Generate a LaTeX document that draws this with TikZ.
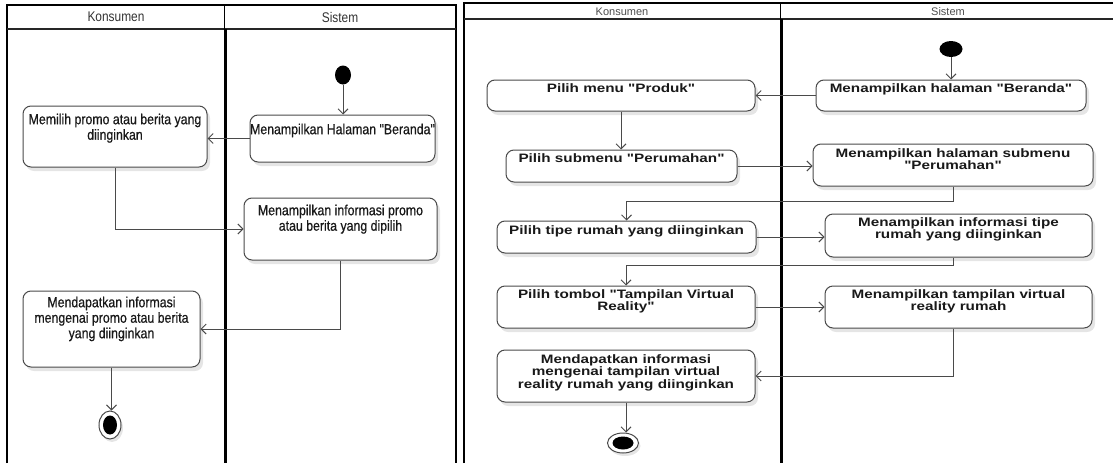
\documentclass[tikz,border=0pt]{standalone}
\usepackage{fontspec}
\setmainfont{Liberation Sans}
\newfontfamily\narrowfont[FakeStretch=0.85]{Liberation Sans}
\newfontfamily\narrowmed[FakeStretch=0.85,FakeBold=0.6]{Liberation Sans}
\newfontfamily\widefont[FakeStretch=1.25]{Liberation Sans}
\usetikzlibrary{arrows.meta,shadows,shapes.geometric}
\definecolor{edge}{HTML}{4A4A4A}
\tikzset{
  lane/.style={black, line width=2pt},
  thinlane/.style={black!85, line width=1.3pt},
  divider/.style={black, line width=3pt},
  act/.style={draw=edge, line width=1pt, rounded corners=8pt, fill=white, inner sep=0pt,
    drop shadow={shadow xshift=3pt, shadow yshift=-4pt, fill=black, opacity=0.10}},
  txtL/.style={anchor=north, inner sep=0pt, align=center, text=black!90,
    font=\narrowmed\fontsize{14.5}{15.5}\selectfont},
  txtR/.style={anchor=north, inner sep=0pt, align=center, text=black!90,
    font=\widefont\bfseries\fontsize{12.2}{10.8}\selectfont},
  headL/.style={inner sep=0pt, text=black!80, font=\narrowfont\fontsize{14}{15}\selectfont},
  headR/.style={inner sep=0pt, text=black!70, font=\fontsize{11}{13}\selectfont},
  flow/.style={draw=edge, line width=1pt, -{Straight Barb[length=5pt,width=10pt,line width=1pt]}},
  startnode/.style={ellipse, fill=black, inner sep=0pt},
  endouter/.style={ellipse, draw=edge, line width=1pt, fill=white, inner sep=0pt,
    drop shadow={shadow xshift=2pt, shadow yshift=-3pt, fill=black, opacity=0.10}},
  endinner/.style={ellipse, fill=black, inner sep=0pt},
}
\begin{document}
\begin{tikzpicture}[x=1pt,y=-1pt]
\useasboundingbox (0,0) rectangle (1113,463);

% ---------------- left diagram: swimlanes ----------------
\draw[lane] (7,463) -- (7,5) -- (456,5) -- (456,463);
\draw[thinlane] (7,29) -- (456,29);
\draw[black, line width=1pt] (224,5) -- (224,29);
\draw[divider] (225.5,29) -- (225.5,463);
\node[headL] (hk1) at (116,17) {Konsumen};
\node[headL] (hs1) at (340,17) {Sistem};

% nodes
\node[startnode, minimum width=16pt, minimum height=19pt] (s1) at (343,75) {};
\node[act, minimum width=185pt, minimum height=47pt] (beranda) at (342.5,138.5) {};
\node[txtL] at ([yshift=-9pt]beranda.north) {Menampilkan Halaman "Beranda"};
\node[act, minimum width=184pt, minimum height=61pt] (memilih) at (115,136.5) {};
\node[txtL] at ([yshift=-8pt]memilih.north) {Memilih promo atau berita yang\\diinginkan};
\node[act, minimum width=193pt, minimum height=62pt] (info) at (340.5,229) {};
\node[txtL] at ([yshift=-7pt]info.north) {Menampilkan informasi promo\\atau berita yang dipilih};
\node[act, minimum width=177pt, minimum height=76pt] (dapat) at (111.5,329) {};
\node[txtL] at ([yshift=-6pt]dapat.north) {Mendapatkan informasi\\mengenai promo atau berita\\yang diinginkan};
\node[endouter, minimum width=22pt, minimum height=28pt] (e1) at (110,425) {};
\node[endinner, minimum width=14pt, minimum height=19pt] (e1i) at (e1.center) {};

% connectors
\draw[flow] (s1) -- (s1 |- beranda.north);
\draw[flow] (beranda.west) -- (beranda.west -| memilih.east);
\draw[flow] (memilih.south) |- (info.west);
\draw[flow] (info.south) |- (dapat.east);
\draw[flow] (dapat.south) -- (dapat.south |- e1.north);

% ---------------- right diagram: swimlanes ----------------
\draw[lane] (464,463) -- (464,3) -- (1113,3);
\draw[thinlane] (464,19) -- (1113,19);
\draw[black, line width=1pt] (780,3) -- (780,19);
\draw[divider] (781,19) -- (781,463);
\node[headR] (hk2) at (622,12) {Konsumen};
\node[headR] (hs2) at (948,12) {Sistem};

% nodes
\node[startnode, minimum width=23pt, minimum height=16pt] (s2) at (951,49) {};
\node[act, minimum width=270pt, minimum height=31pt] (beranda2) at (951,95.5) {};
\node[txtR] at ([yshift=-4pt]beranda2.north) {Menampilkan halaman "Beranda"};
\node[act, minimum width=268pt, minimum height=31pt] (produk) at (621,95.5) {};
\node[txtR] at ([yshift=-4pt]produk.north) {Pilih menu "Produk"};
\node[act, minimum width=231pt, minimum height=32pt] (submenu) at (621.5,166) {};
\node[txtR] at ([yshift=-4pt]submenu.north) {Pilih submenu "Perumahan"};
\node[act, minimum width=280pt, minimum height=42pt] (halsub) at (953,165) {};
\node[txtR] at ([yshift=-5pt]halsub.north) {Menampilkan halaman submenu\\"Perumahan"};
\node[act, minimum width=259pt, minimum height=32pt] (tipe) at (626.5,237) {};
\node[txtR] at ([yshift=-5pt]tipe.north) {Pilih tipe rumah yang diinginkan};
\node[act, minimum width=267pt, minimum height=43pt] (infotipe) at (958.5,235.5) {};
\node[txtR] at ([yshift=-4pt]infotipe.north) {Menampilkan informasi tipe\\rumah yang diinginkan};
\node[act, minimum width=258pt, minimum height=42pt] (tombol) at (626,307) {};
\node[txtR] at ([yshift=-4pt]tombol.north) {Pilih tombol "Tampilan Virtual\\Reality"};
\node[act, minimum width=267pt, minimum height=42pt] (tampil) at (958.5,307) {};
\node[txtR] at ([yshift=-4pt]tampil.north) {Menampilkan tampilan virtual\\reality rumah};
\node[act, minimum width=258pt, minimum height=52pt] (dapat2) at (626,376) {};
\node[txtR] at ([yshift=-5pt]dapat2.north) {Mendapatkan informasi\\mengenai tampilan virtual\\reality rumah yang diinginkan};
\node[endouter, minimum width=31pt, minimum height=20pt] (e2) at (623,443) {};
\node[endinner, minimum width=21pt, minimum height=13pt] (e2i) at (e2.center) {};

% connectors
\draw[flow] (s2) -- (s2 |- beranda2.north);
\draw[flow] (beranda2.west) -- (beranda2.west -| produk.east);
\draw[flow] (produk.south) -- (produk.south |- submenu.north);
\draw[flow] (submenu.east) -- (submenu.east -| halsub.west);
\draw[flow] (halsub.south) -- ++(0,15) -| (tipe.north);
\draw[flow] (tipe.east) -- (tipe.east -| infotipe.west);
\draw[flow] ([xshift=-5pt]infotipe.south) -- ++(0,8) -| (tombol.north);
\draw[flow] (tombol.east) -- (tombol.east -| tampil.west);
\draw[flow] ([xshift=-5pt]tampil.south) |- (dapat2.east);
\draw[flow] (dapat2.south) -- (dapat2.south |- e2.north);
\end{tikzpicture}
\end{document}
